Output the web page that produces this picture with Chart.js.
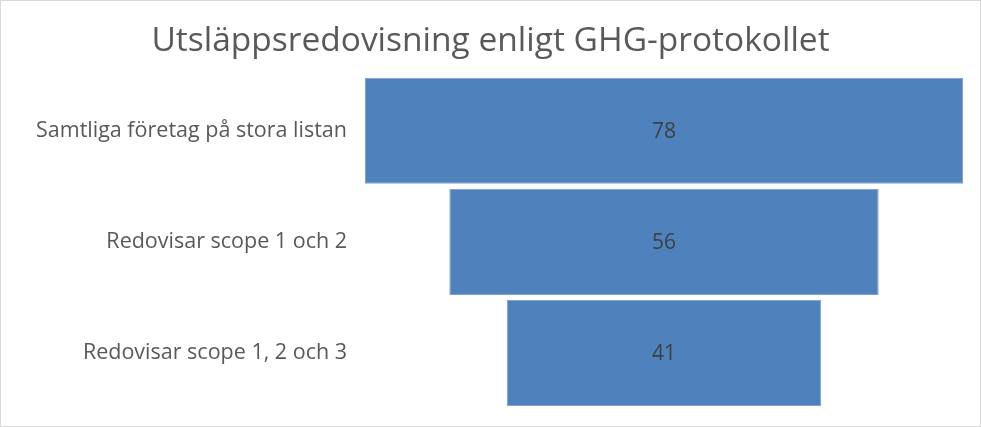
<!DOCTYPE html>
<html>
<head>
<meta charset="utf-8">
<script src="https://cdn.jsdelivr.net/npm/chart.js@4"></script>
<style>
  body { margin: 0; background: #fff; }
  #wrap { width: 979px; height: 425px; border: 1px solid #d9d9d9; position: relative; }
</style>
</head>
<body>
<div id="wrap"><canvas id="funnel"></canvas></div>
<script>
const categories = ['Samtliga företag på stora listan', 'Redovisar scope 1 och 2', 'Redovisar scope 1, 2 och 3'];
const counts = [78, 56, 41];

// funnel: each bar floats symmetrically around zero
const spans = counts.map(v => [-v / 2, v / 2]);
const maxHalf = Math.max(...counts) / 2;

const valueLabels = {
    id: 'valueLabels',
    afterDatasetsDraw(chart) {
        const ctx = chart.ctx;
        const meta = chart.getDatasetMeta(0);
        ctx.save();
        ctx.fillStyle = '#404040';
        ctx.font = '21px "Open Sans"';
        ctx.textAlign = 'center';
        ctx.textBaseline = 'middle';
        meta.data.forEach((bar, i) => {
            const p = bar.getProps(['x', 'base', 'y'], true);
            ctx.fillText(counts[i], (p.x + p.base) / 2, p.y + 1);
        });
        ctx.restore();
    }
};

const ctx = document.getElementById('funnel').getContext('2d');
new Chart(ctx, {
    type: 'bar',
    data: {
        labels: categories,
        datasets: [{
            data: spans,
            backgroundColor: '#4f81bd',
            borderColor: '#7fa3d1',
            borderWidth: 1,
            borderSkipped: false,
            barPercentage: 0.955,
            categoryPercentage: 1
        }]
    },
    options: {
        indexAxis: 'y',
        responsive: true,
        maintainAspectRatio: false,
        animation: false,
        layout: { padding: { left: 17, right: 17, top: 0, bottom: 17.5 } },
        scales: {
            x: { display: false, min: -maxHalf, max: maxHalf },
            y: {
                grid: { display: false },
                border: { display: false },
                ticks: { color: '#595959', font: { size: 21.5, family: 'Open Sans' }, padding: 10 },
                afterFit(scale) {
                    scale.width = 347;
                    scale.paddingTop = 0;
                    scale.paddingBottom = 0;
                }
            }
        },
        plugins: {
            legend: { display: false },
            tooltip: { enabled: false },
            title: {
                display: true,
                text: 'Utsläppsredovisning enligt GHG-protokollet',
                color: '#595959',
                font: { size: 33.5, family: 'Open Sans', weight: 'normal' },
                padding: { top: 20, bottom: 14 }
            }
        }
    },
    plugins: [valueLabels]
});
</script>
</body>
</html>
